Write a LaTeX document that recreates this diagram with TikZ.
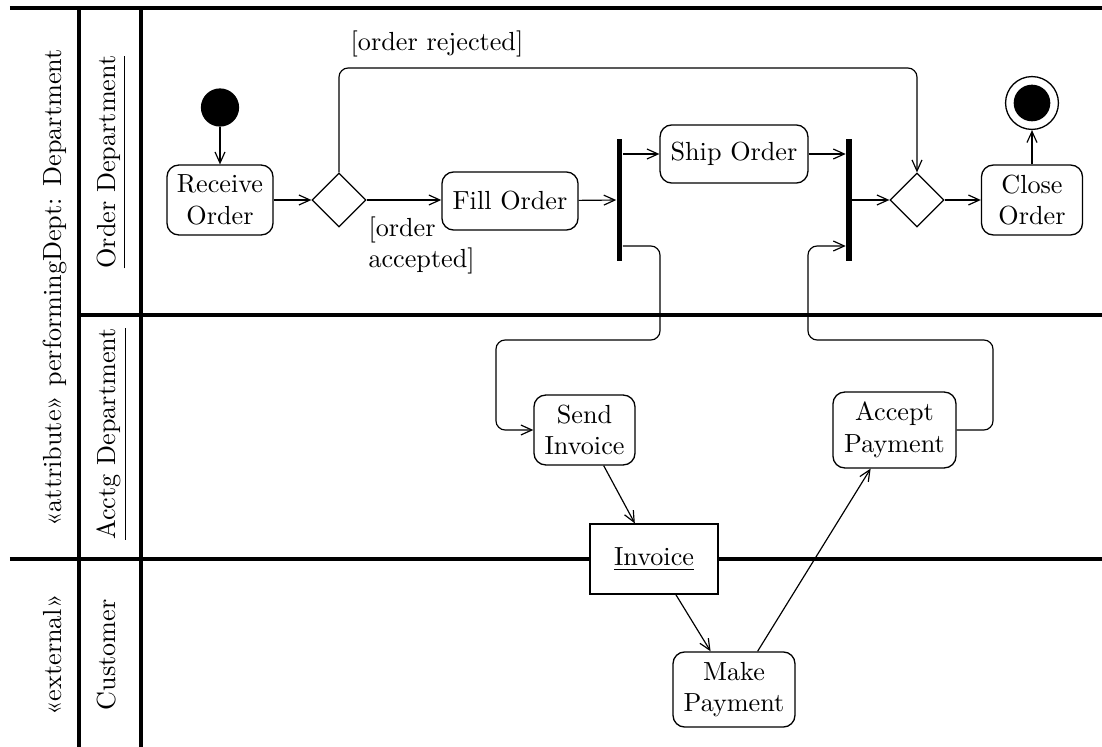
\documentclass[tikz,border=0pt]{standalone}
\usetikzlibrary{shapes.geometric,arrows.meta}
\begin{document}
\begin{tikzpicture}[x=0.382pt, y=-0.382pt,
  lane/.style={line width=1.15pt},
  action/.style={draw, rounded corners=4.5pt, align=center, inner sep=0pt, line width=0.5pt},
  decision/.style={draw, diamond, minimum width=20.6pt, minimum height=20.6pt, inner sep=0pt, line width=0.5pt},
  syncbar/.style={fill=black, inner sep=0pt, minimum width=2.1pt, minimum height=46.6pt},
  flow/.style={-{Straight Barb[length=4.2pt,width=3.8pt]}, line width=0.45pt},
  lanelabel/.style={rotate=90, anchor=base},
  routed/.style={rounded corners=3.5pt}]
\useasboundingbox (0,0) rectangle (1102,747);

% swimlane frame
\draw[lane] (10,8) -- (1102,8);
\draw[lane] (79,8) -- (79,747);
\draw[lane] (141,8) -- (141,747);
\draw[lane] (79,315) -- (1102,315);
\draw[lane] (10,559) -- (1102,559);

% lane headings
\node[lanelabel] (deptlbl) at (62,288) {«attribute» performingDept: Department};
\node[lanelabel] (extlbl) at (62,655) {«external»};
\node[lanelabel] (orderlane) at (116,162) {\underline{Order Department}};
\node[lanelabel] (acctlane) at (116,434) {\underline{Acctg Department}};
\node[lanelabel] (custlane) at (116,655) {Customer};

% activity nodes
\node[circle, fill, minimum size=14.6pt, inner sep=0pt] (init) at (220,107.5) {};
\node[action, minimum width=40.5pt, minimum height=26.7pt] (recv) at (220,200) {Receive\\Order};
\node[decision] (dec1) at (339,200) {};
\node[action, minimum width=52pt, minimum height=22.2pt] (fill) at (510,201) {Fill Order};
\node[syncbar] (fork1) at (619.5,200) {};
\node[action, minimum width=56.5pt, minimum height=22.2pt] (ship) at (734,154) {Ship Order};
\node[syncbar] (join) at (849,200) {};
\node[decision] (dec2) at (917,200) {};
\node[action, minimum width=38.6pt, minimum height=26.7pt] (close) at (1032,200) {Close\\Order};
\node[circle, draw, line width=0.5pt, minimum size=20.2pt, inner sep=0pt] (final) at (1032,103) {};
\node[circle, fill, minimum size=14pt, inner sep=0pt] (finaldot) at (final.center) {};

\node[action, minimum width=38.6pt, minimum height=26.7pt] (send) at (584.5,430) {Send\\Invoice};
\node[action, minimum width=47pt, minimum height=29pt] (accept) at (894.5,430) {Accept\\Payment};
\node[action, minimum width=46.6pt, minimum height=28.7pt] (make) at (734,689.5) {Make\\Payment};
\node[draw, fill=white, line width=0.5pt, minimum width=49pt, minimum height=26.7pt, inner sep=0pt] (inv) at (654,559) {\underline{Invoice}};

% guard labels
\node[anchor=base, inner sep=0pt] (rejlbl) at (437,50.5) {[order rejected]};
\node[align=left, anchor=north west, inner sep=0pt] (acclbl) at (368,216) {[order\\accepted]};

% bend points of the routed flows
\coordinate (rejbend) at (600,68);
\coordinate (splitlvl) at (0,246);
\coordinate (splitdrop) at (660,340);
\coordinate (sendbend) at (496,430);
\coordinate (paylift) at (993,340);
\coordinate (joinbend) at (808,246);

% control flows
\draw[flow] (init) -- (recv);
\draw[flow] (recv) -- (dec1);
\draw[flow] (dec1) -- (dec1 -| fill.west);
\draw[flow] (fill) -- (fork1);
\draw[flow] (fork1.east |- ship) -- (ship);
\draw[flow] (ship) -- (join.west |- ship);
\draw[flow] (join) -- (dec2);
\draw[flow] (dec2) -- (close);
\draw[flow] (close) -- (final);
\draw[flow, routed] (dec1.north) |- (rejbend) -| (dec2.north);
\draw[flow, routed] (fork1.east |- splitlvl) -| (splitdrop) -| (sendbend) -- (send.west);
\draw[flow, routed] (accept.east) -| (paylift) -| (joinbend) -- (join.west |- joinbend);
\draw[flow] (send) -- (inv);
\draw[flow] (inv) -- (make);
\draw[flow] (make) -- (accept);
\end{tikzpicture}
\end{document}
